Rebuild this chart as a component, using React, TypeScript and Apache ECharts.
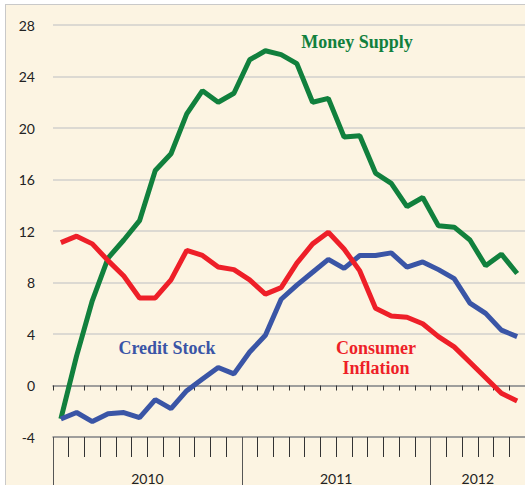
import React, { useEffect, useRef } from "react";
import * as echarts from "echarts";

// ---- data ----
const months = [
  "Jan 2010", "Feb 2010", "Mar 2010", "Apr 2010", "May 2010", "Jun 2010",
  "Jul 2010", "Aug 2010", "Sep 2010", "Oct 2010", "Nov 2010", "Dec 2010",
  "Jan 2011", "Feb 2011", "Mar 2011", "Apr 2011", "May 2011", "Jun 2011",
  "Jul 2011", "Aug 2011", "Sep 2011", "Oct 2011", "Nov 2011", "Dec 2011",
  "Jan 2012", "Feb 2012", "Mar 2012", "Apr 2012", "May 2012", "Jun 2012",
];
const years = ["2010", "2011", "2012"];
const monthsPerYear = [12, 12, 6];

const moneySupply = [
  -2.6, 2.3, 6.6, 9.9, 11.3, 12.8, 16.7, 18.0, 21.1, 22.9, 22.0, 22.7,
  25.3, 26.0, 25.7, 25.0, 22.0, 22.3, 19.3, 19.4, 16.5, 15.7, 13.9, 14.6,
  12.4, 12.3, 11.3, 9.3, 10.2, 8.7,
];
const creditStock = [
  -2.6, -2.1, -2.8, -2.2, -2.1, -2.5, -1.1, -1.8, -0.4, 0.5, 1.4, 0.9,
  2.6, 3.9, 6.7, 7.8, 8.8, 9.8, 9.1, 10.1, 10.1, 10.3, 9.2, 9.6,
  9.0, 8.3, 6.4, 5.6, 4.3, 3.8,
];
const consumerInflation = [
  11.1, 11.6, 11.0, 9.7, 8.5, 6.8, 6.8, 8.2, 10.5, 10.1, 9.2, 9.0,
  8.2, 7.1, 7.6, 9.5, 11.0, 11.9, 10.6, 8.9, 6.0, 5.4, 5.3, 4.8,
  3.8, 3.0, 1.8, 0.6, -0.6, -1.2,
];
const yTicks = { min: -4, max: 28, interval: 4 };
const seriesNames = ["Money Supply", "Credit Stock", "Consumer Inflation"];

const GREEN = "#11803d";
const BLUE = "#3a55a6";
const RED = "#ee1f28";

export default function App() {
  const ref = useRef<HTMLDivElement>(null);

  useEffect(() => {
    if (!ref.current) return;
    const chart = echarts.init(ref.current, null, { renderer: "svg" });

    const yearBounds: number[] = [0];
    const yearCenters: number[] = [];
    monthsPerYear.forEach((n, i) => {
      yearCenters.push(yearBounds[i] + n / 2);
      yearBounds.push(yearBounds[i] + n);
    });
    const total = months.length;

    chart.setOption({
      animation: false,
      backgroundColor: "transparent",
      grid: { left: 53, top: 25, width: 475, height: 412, containLabel: false },
      xAxis: [
        {
          type: "category",
          data: months,
          boundaryGap: true,
          position: "bottom",
          axisLine: { onZero: true, lineStyle: { color: "#8a8a8a", width: 1.5 } },
          axisTick: { show: true, interval: 0, length: 5, lineStyle: { color: "#333", width: 1 } },
          axisLabel: { show: false },
          splitLine: { show: false },
        },
        {
          type: "category",
          data: months,
          boundaryGap: true,
          position: "bottom",
          axisLine: { onZero: false, lineStyle: { color: "#8a8a8a", width: 1.5 } },
          axisTick: { show: true, interval: 0, length: 20, lineStyle: { color: "#333", width: 1 } },
          axisLabel: { show: false },
          splitLine: { show: false },
        },
        {
          type: "value",
          min: 0,
          max: total,
          position: "bottom",
          axisLine: { show: false, onZero: false },
          axisTick: {
            show: true,
            length: 48,
            customValues: yearBounds,
            lineStyle: { color: "#555", width: 1 },
          },
          axisLabel: {
            show: true,
            customValues: yearCenters,
            margin: 34,
            fontSize: 14,
            fontFamily: "Lato",
            color: "#222",
            formatter: (v: number) => {
              const i = yearCenters.findIndex((c) => Math.abs(c - v) < 1e-6);
              return i >= 0 ? years[i] : "";
            },
          },
          splitLine: { show: false },
        },
      ],
      yAxis: {
        type: "value",
        min: yTicks.min,
        max: yTicks.max,
        interval: yTicks.interval,
        axisLine: { show: false },
        axisTick: { show: false },
        axisLabel: { fontSize: 14, fontFamily: "Lato", color: "#222", margin: 18 },
        splitLine: { lineStyle: { color: "#d2d0cc", width: 1.5 } },
      },
      series: [
        {
          name: seriesNames[0],
          type: "line",
          xAxisIndex: 0,
          data: moneySupply,
          symbol: "none",
          lineStyle: { color: GREEN, width: 5 },
          z: 3,
        },
        {
          name: seriesNames[1],
          type: "line",
          xAxisIndex: 0,
          data: creditStock,
          symbol: "none",
          lineStyle: { color: BLUE, width: 5 },
          z: 4,
        },
        {
          name: seriesNames[2],
          type: "line",
          xAxisIndex: 0,
          data: consumerInflation,
          symbol: "none",
          lineStyle: { color: RED, width: 5 },
          z: 5,
        },
      ],
      graphic: [
        {
          type: "text",
          x: 357,
          y: 42,
          style: {
            text: seriesNames[0],
            fill: GREEN,
            font: "bold 18px 'Liberation Serif', serif",
            textAlign: "center",
            textVerticalAlign: "middle",
          },
        },
        {
          type: "text",
          x: 167,
          y: 348,
          style: {
            text: seriesNames[1],
            fill: BLUE,
            font: "bold 18px 'Liberation Serif', serif",
            textAlign: "center",
            textVerticalAlign: "middle",
          },
        },
        {
          type: "text",
          x: 376,
          y: 358,
          style: {
            text: "Consumer\nInflation",
            fill: RED,
            font: "bold 18px 'Liberation Serif', serif",
            lineHeight: 20,
            textAlign: "center",
            textVerticalAlign: "middle",
          },
        },
      ],
    });

    return () => chart.dispose();
  }, []);

  return (
    <div style={{ position: "absolute", left: 0, top: 0, width: 525, height: 485, background: "#fff", overflow: "hidden" }}>
      <div
        style={{
          position: "absolute",
          left: 5,
          top: 4,
          width: 530,
          height: 490,
          background: "#fcf4e2",
          borderLeft: "1.5px solid #c9c9c9",
          borderTop: "1.5px solid #c9c9c9",
        }}
      />
      <div ref={ref} style={{ position: "absolute", left: 0, top: 0, width: 525, height: 485 }} />
    </div>
  );
}
